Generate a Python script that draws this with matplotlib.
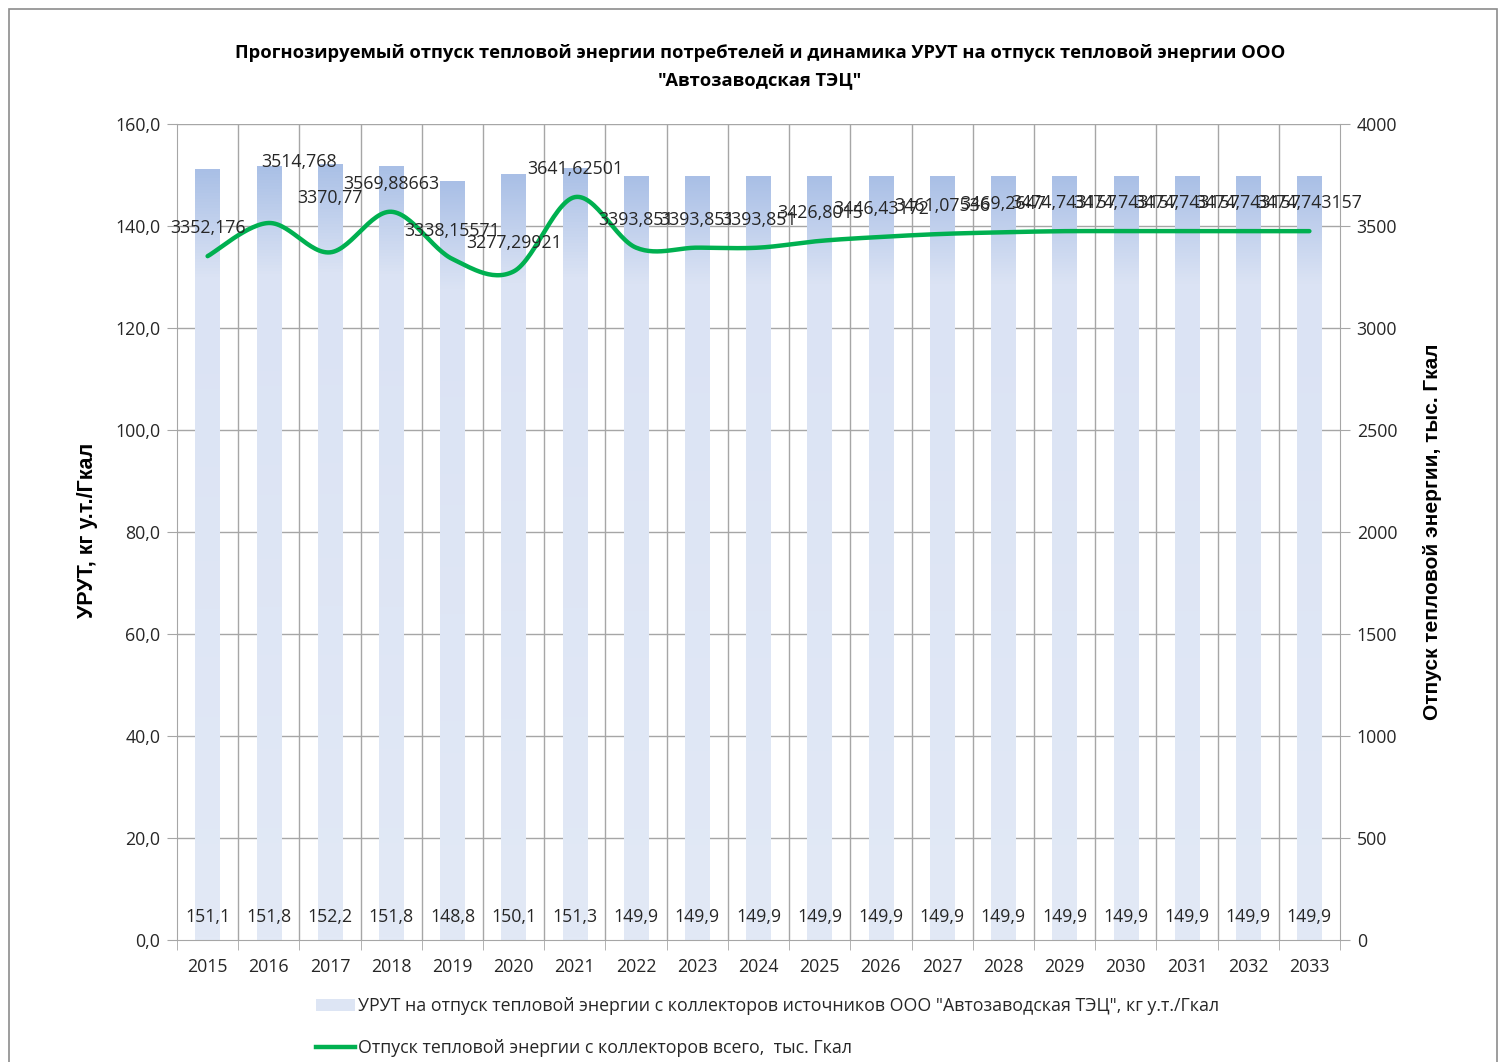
import numpy as np
import matplotlib
matplotlib.use("Agg")
from matplotlib import pyplot as plt
from matplotlib.lines import Line2D
from matplotlib.patches import Patch, Rectangle
from matplotlib.colors import LinearSegmentedColormap

plt.rcParams['font.family'] = ['Open Sans', 'DejaVu Sans']

# data
years = ['2015', '2016', '2017', '2018', '2019', '2020', '2021', '2022', '2023', '2024',
         '2025', '2026', '2027', '2028', '2029', '2030', '2031', '2032', '2033']
urut = [151.1, 151.8, 152.2, 151.8, 148.8, 150.1, 151.3, 149.9, 149.9, 149.9,
        149.9, 149.9, 149.9, 149.9, 149.9, 149.9, 149.9, 149.9, 149.9]
heat = [3352.176, 3514.768, 3370.77, 3569.88663, 3338.15571, 3277.29921, 3641.62501,
        3393.851, 3393.851, 3393.851, 3426.8015, 3446.43172, 3461.07536, 3469.2647,
        3474.743157, 3474.743157, 3474.743157, 3474.743157, 3474.743157]
heat_labels = ['3352,176', '3514,768', '3370,77', '3569,88663', '3338,15571', '3277,29921',
               '3641,62501', '3393,851', '3393,851', '3393,851', '3426,8015', '3446,43172',
               '3461,07536', '3469,2647', '3474,743157', '3474,743157', '3474,743157',
               '3474,743157', '3474,743157']

title = 'Прогнозируемый отпуск тепловой энергии потребтелей и динамика УРУТ на отпуск тепловой энергии ООО\n"Автозаводская ТЭЦ"'
bar_name = 'УРУТ на отпуск тепловой энергии с коллекторов источников ООО "Автозаводская ТЭЦ", кг у.т./Гкал'
line_name = 'Отпуск тепловой энергии с коллекторов всего,  тыс. Гкал'

# label offsets in pixels (layout only)
label_off = [(0, 28)] * len(years)
label_off[1] = (30, 61)
label_off[2] = (0, 54)


def smooth(x, y, n=30):
    # Excel-like smoothed line (Catmull-Rom as cubic Bezier)
    x = np.asarray(x, float)
    y = np.asarray(y, float)
    xs, ys = [], []
    m = len(x)
    for i in range(m - 1):
        i0 = max(i - 1, 0)
        i3 = min(i + 2, m - 1)
        p0 = np.array([x[i], y[i]])
        p3 = np.array([x[i + 1], y[i + 1]])
        b1 = p0 + (p3 - np.array([x[i0], y[i0]])) / 6.0
        b2 = p3 - (np.array([x[i3], y[i3]]) - p0) / 6.0
        t = np.linspace(0, 1, n)[:, None]
        pts = (1 - t) ** 3 * p0 + 3 * (1 - t) ** 2 * t * b1 + 3 * (1 - t) * t ** 2 * b2 + t ** 3 * p3
        xs.append(pts[:, 0])
        ys.append(pts[:, 1])
    return np.concatenate(xs), np.concatenate(ys)


W, H = 1503, 1062
fig = plt.figure(figsize=(W / 100, H / 100), dpi=100)
fig.patches.append(Rectangle((9 / W, -0.05), (1497 - 9) / W, 1.05 - 9 / H, transform=fig.transFigure,
                             fill=False, edgecolor='#8c8c8c', linewidth=1.2))

ax = fig.add_axes([177 / W, 1 - 940 / H, (1340 - 177) / W, (940 - 124) / H])
ax2 = ax.twinx()
x = np.arange(len(years))

grid_c = '#a6a6a6'
tick_c = '#262626'
fs = 12.8

ax.set_xlim(-0.5, len(years) - 0.5)
ax.set_ylim(0, 160)
ax2.set_ylim(0, 4000)

# gridlines
for yv in np.arange(20, 161, 20):
    ax.axhline(yv, color=grid_c, lw=1, zorder=0)
for xv in np.arange(0.5, len(years) - 0.5, 1):
    ax.axvline(xv, color=grid_c, lw=1, zorder=0)

# gradient bars
cmap = LinearSegmentedColormap.from_list('g', [(0, '#e2e9f6'), (0.86, '#dbe3f4'), (1.0, '#a9bfe6')])
grad = np.linspace(0, 1, 256)[:, None]
bars = ax.bar(x, urut, width=0.4, color='#dde5f4', linewidth=0, zorder=1)
for b in bars:
    x0, w, h = b.get_x(), b.get_width(), b.get_height()
    im = ax.imshow(grad, cmap=cmap, aspect='auto', origin='lower',
                   extent=(x0, x0 + w, 0, h), zorder=1.5)
    im.set_clip_path(b)
ax.set_xlim(-0.5, len(years) - 0.5)
ax.set_ylim(0, 160)

for xi, v in zip(x, urut):
    ax.annotate(f'{v:.1f}'.replace('.', ','), (xi, 0), xytext=(0, 23), textcoords='offset pixels',
                ha='center', va='center', fontsize=fs, color=tick_c, zorder=5)

# line
sx, sy = smooth(x, heat)
ax2.plot(sx, sy, color='#00b050', lw=3.2, solid_capstyle='round', zorder=3)
for xi, v, lab, off in zip(x, heat, heat_labels, label_off):
    ax2.annotate(lab, (xi, v), xytext=off, textcoords='offset pixels',
                 ha='center', va='center', fontsize=fs, color=tick_c, zorder=6)

# axes styling
ax.set_yticks(np.arange(0, 161, 20))
ax.set_yticklabels([f'{v:.1f}'.replace('.', ',') for v in np.arange(0, 161, 20)])
ax.set_xticks(x)
ax.set_xticklabels(years)
ax.set_xticks(np.arange(-0.5, len(years), 1), minor=True)
ax.tick_params(axis='x', which='major', length=0, pad=13, labelsize=fs, labelcolor=tick_c)
ax.tick_params(axis='x', which='minor', length=7, color=grid_c, direction='out')
ax.tick_params(axis='y', length=7, color=grid_c, labelsize=fs, labelcolor=tick_c, pad=5)
ax2.set_yticks(np.arange(0, 4001, 500))
ax2.tick_params(axis='y', length=7, color=grid_c, labelsize=fs, labelcolor=tick_c, pad=5)
for a in (ax, ax2):
    for s in a.spines.values():
        s.set_visible(False)
ax.spines['left'].set_visible(True)
ax.spines['left'].set_color(grid_c)
ax.spines['bottom'].set_visible(True)
ax.spines['bottom'].set_color(grid_c)
ax2.spines['right'].set_visible(True)
ax2.spines['right'].set_color(grid_c)

fig.text(88 / W, 1 - 530 / H, 'УРУТ, кг у.т./Гкал', rotation=90, ha='center', va='center',
         fontsize=15.5, fontweight='bold', family=['Liberation Sans', 'DejaVu Sans'])
fig.text(1432 / W, 1 - 532 / H, 'Отпуск тепловой энергии, тыс. Гкал', rotation=90, ha='center',
         va='center', fontsize=15, fontweight='bold', family=['Liberation Sans', 'DejaVu Sans'])
fig.text(760 / W, 1 - 67 / H, title, ha='center', va='center', fontsize=13.2, fontweight='bold',
         linespacing=1.65)

handles = [Patch(facecolor='#dde5f4', edgecolor='none'),
           Line2D([0], [0], color='#00b050', lw=3.2)]
fig.legend(handles, [bar_name, line_name], loc='upper left', bbox_to_anchor=(300 / W, 1 - 981 / H),
           frameon=False, fontsize=fs, labelspacing=1.35, handlelength=2.2, handletextpad=0.15,
           labelcolor=tick_c)

fig.savefig('out.png', dpi=100)
